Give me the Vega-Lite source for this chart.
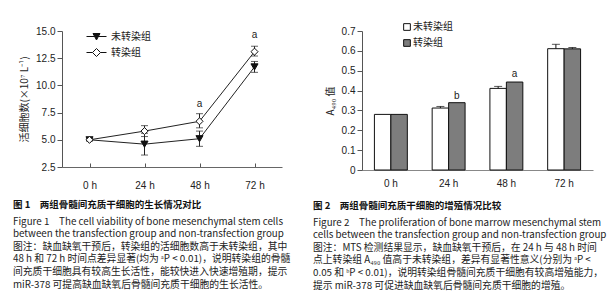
{
  "$schema": "https://vega.github.io/schema/vega-lite/v6.json",
  "autosize": {"type": "pad"},
  "padding": {"left": 13, "top": 22, "right": 0, "bottom": 0},
  "background": "white",
  "bounds": "flush",
  "spacing": 80,
  "resolve": {"scale": {"fill": "independent", "shape": "independent"}, "legend": {"fill": "independent", "shape": "independent"}},
  "config": {
    "view": {"stroke": null},
    "font": "Noto Sans CJK SC",
    "axis": {"labelFont": "Liberation Sans", "labelFontSize": 10, "labelColor": "#222", "domainColor": "#555", "tickColor": "#555", "grid": false, "titleFont": "Noto Sans CJK SC", "titleFontWeight": "normal", "titleFontSize": 10, "titleColor": "#222"},
    "legend": {"labelFont": "Noto Sans CJK SC", "labelFontSize": 10, "labelColor": "#222"},
    "title": {"color": "#111", "subtitleColor": "#222"}
  },
  "datasets": {
    "growth": [
      {"time": "0 h", "group": "未转染组", "value": 5.0, "lo": 4.9, "hi": 5.1},
      {"time": "24 h", "group": "未转染组", "value": 4.6, "lo": 3.6, "hi": 5.6},
      {"time": "48 h", "group": "未转染组", "value": 5.1, "lo": 4.4, "hi": 5.8},
      {"time": "72 h", "group": "未转染组", "value": 11.7, "lo": 11.2, "hi": 12.2},
      {"time": "0 h", "group": "转染组", "value": 5.0, "lo": 4.9, "hi": 5.1},
      {"time": "24 h", "group": "转染组", "value": 5.8, "lo": 5.3, "hi": 6.3},
      {"time": "48 h", "group": "转染组", "value": 6.7, "lo": 6.1, "hi": 7.4},
      {"time": "72 h", "group": "转染组", "value": 13.1, "lo": 12.7, "hi": 13.6}
    ],
    "growthMarks": [
      {"time": "48 h", "label": "a", "y": 8.3},
      {"time": "72 h", "label": "a", "y": 14.6}
    ],
    "prolif": [
      {"time": "0 h", "series": "未转染组", "value": 0.28, "hi": 0.28},
      {"time": "24 h", "series": "未转染组", "value": 0.312, "hi": 0.32},
      {"time": "48 h", "series": "未转染组", "value": 0.411, "hi": 0.421},
      {"time": "72 h", "series": "未转染组", "value": 0.611, "hi": 0.633},
      {"time": "0 h", "series": "转染组", "value": 0.28, "hi": 0.28},
      {"time": "24 h", "series": "转染组", "value": 0.339, "hi": 0.339},
      {"time": "48 h", "series": "转染组", "value": 0.443, "hi": 0.443},
      {"time": "72 h", "series": "转染组", "value": 0.61, "hi": 0.617}
    ],
    "prolifMarks": [
      {"time": "24 h", "series": "转染组", "label": "b", "y": 0.374},
      {"time": "48 h", "series": "转染组", "label": "a", "y": 0.483}
    ]
  },
  "hconcat": [
    {
      "width": 220,
      "height": 136,
      "title": {
        "text": "图 1　两组骨髓间充质干细胞的生长情况对比",
        "subtitle": [
          "Figure 1　The cell viability of bone mesenchymal stem cells",
          "between the transfection group and non-transfection group",
          "图注：缺血缺氧干预后，转染组的活细胞数高于未转染组，其中",
          "48 h 和 72 h 时间点差异显著(均为 ᵃP < 0.01)，说明转染组的骨髓",
          "间充质干细胞具有较高生长活性，能较快进入快速增殖期，提示",
          "miR-378 可提高缺血缺氧后骨髓间充质干细胞的生长活性。"
        ],
        "orient": "bottom",
        "anchor": "start",
        "frame": "group",
        "dx": -49,
        "offset": 10,
        "font": "Noto Sans CJK SC",
        "fontSize": 9.5,
        "fontWeight": "bold",
        "subtitleFont": "Noto Sans CJK SC",
        "subtitleFontSize": 9.8,
        "subtitlePadding": 7,
        "subtitleLineHeight": 12.6
      },
      "encoding": {
        "x": {
          "field": "time", "type": "ordinal", "sort": ["0 h", "24 h", "48 h", "72 h"],
          "scale": {"type": "point", "padding": 0.5},
          "axis": {"title": null, "labelAngle": 0, "tickSize": -4, "labelPadding": 17, "domainColor": "#666"}
        }
      },
      "resolve": {"scale": {"shape": "independent"}},
      "layer": [
        {
          "data": {"name": "growth"},
          "mark": {"type": "line", "color": "#222", "strokeWidth": 1},
          "encoding": {
            "y": {"field": "value", "type": "quantitative", "scale": {"domain": [2.5, 15], "nice": false, "zero": false},
              "axis": {
                "title": "活细胞数(×10⁷ L⁻¹)", "tickCount": 25, "labelOverlap": false,
                "labelExpr": "datum.value % 2.5 === 0 ? format(datum.value, '.1f') : ''",
                "tickOpacity": {"condition": {"test": "datum.value % 2.5 === 0", "value": 1}, "value": 0},
                "tickSize": 5, "titlePadding": 6
              }},
            "detail": {"field": "group"}
          }
        },
        {
          "data": {"name": "growth"},
          "mark": {"type": "rule", "color": "#222", "strokeWidth": 1},
          "encoding": {
            "y": {"field": "lo", "type": "quantitative"},
            "y2": {"field": "hi"}
          }
        },
        {
          "data": {"name": "growth"},
          "mark": {"type": "tick", "color": "#222", "size": 7, "thickness": 1, "orient": "horizontal"},
          "encoding": {"y": {"field": "lo", "type": "quantitative"}}
        },
        {
          "data": {"name": "growth"},
          "mark": {"type": "tick", "color": "#222", "size": 7, "thickness": 1, "orient": "horizontal"},
          "encoding": {"y": {"field": "hi", "type": "quantitative"}}
        },
        {
          "data": {"name": "growth"},
          "mark": {"type": "point", "filled": true, "size": 50, "stroke": "#111", "strokeWidth": 1, "opacity": 1},
          "encoding": {
            "y": {"field": "value", "type": "quantitative"},
            "shape": {
              "field": "group", "type": "nominal",
              "scale": {"domain": ["未转染组", "转染组"], "range": ["triangle-down", "diamond"]},
              "legend": null
            },
            "fill": {
              "field": "group", "type": "nominal",
              "scale": {"domain": ["未转染组", "转染组"], "range": ["#111", "white"]},
              "legend": null
            }
          }
        },
        {
          "data": {"name": "growth"},
          "transform": [{"filter": "datum.value > 100"}],
          "mark": {"type": "point", "filled": false, "color": "#111", "strokeWidth": 1, "opacity": 1},
          "encoding": {
            "y": {"field": "value", "type": "quantitative"},
            "shape": {
              "field": "group", "type": "nominal",
              "scale": {"domain": ["未转染组", "转染组"], "range": ["M-1,0L1,0M-0.35,-0.3L0.35,-0.3L0,0.35ZM-0.3,-0.2L0.3,-0.2M-0.24,-0.1L0.24,-0.1M-0.19,0L0.19,0M-0.13,0.1L0.13,0.1M-0.08,0.2L0.08,0.2", "M-1,0L-0.4,0M0.4,0L1,0M0,-0.4L0.4,0L0,0.4L-0.4,0Z"]},
              "legend": {
                "orient": "none", "legendX": 24, "legendY": -5, "title": null,
                "symbolSize": 400, "rowPadding": -3, "labelOffset": 4,
                "symbolStrokeColor": "#111", "symbolStrokeWidth": 1, "symbolOpacity": 1
              }
            }
          }
        },
        {
          "data": {"name": "growthMarks"},
          "mark": {"type": "text", "font": "Liberation Sans", "fontSize": 10, "color": "#222"},
          "encoding": {
            "y": {"field": "y", "type": "quantitative"},
            "text": {"field": "label"}
          }
        }
      ]
    },
    {
      "width": 231,
      "height": 139,
      "title": {
        "text": "图 2　两组骨髓间充质干细胞的增殖情况比较",
        "subtitle": [
          "Figure 2　The proliferation of bone marrow mesenchymal stem",
          "cells between the transfection group and non-transfection group",
          "图注：MTS 检测结果显示，缺血缺氧干预后，在 24 h 与 48 h 时间",
          "点上转染组 A₄₉₀ 值高于未转染组，差异有显著性意义(分别为 ᵃP <",
          "0.05 和 ᵇP < 0.01)，说明转染组骨髓间充质干细胞有较高增殖能力，",
          "提示 miR-378 可促进缺血缺氧后骨髓间充质干细胞的增殖。"
        ],
        "orient": "bottom",
        "anchor": "start",
        "frame": "group",
        "dx": -49,
        "offset": 13,
        "font": "Noto Sans CJK SC",
        "fontSize": 9.5,
        "fontWeight": "bold",
        "subtitleFont": "Noto Sans CJK SC",
        "subtitleFontSize": 9.8,
        "subtitlePadding": 7,
        "subtitleLineHeight": 12.6
      },
      "encoding": {
        "x": {
          "field": "time", "type": "ordinal", "sort": ["0 h", "24 h", "48 h", "72 h"],
          "scale": {"type": "band", "paddingInner": 0.43, "paddingOuter": 0.215},
          "axis": {"title": null, "labelAngle": 0, "ticks": false, "labelPadding": 8, "domainColor": "#888"}
        },
        "xOffset": {"field": "series", "type": "nominal", "sort": ["未转染组", "转染组"], "scale": {"paddingInner": 0, "paddingOuter": 0}}
      },
      "layer": [
        {
          "data": {"name": "prolif"},
          "mark": {"type": "bar", "stroke": "#111", "strokeWidth": 1},
          "encoding": {
            "y": {"field": "value", "type": "quantitative", "scale": {"domain": [0, 0.7], "nice": false},
              "axis": {"title": "A₄₉₀ 值", "tickCount": 7, "format": ".1~f", "tickSize": 5, "titlePadding": 6}},
            "fill": {
              "field": "series", "type": "nominal",
              "scale": {"domain": ["未转染组", "转染组"], "range": ["#ffffff", "#7d7d7d"]},
              "legend": {
                "orient": "none", "legendX": 40, "legendY": -9, "title": null,
                "symbolType": "square", "symbolSize": 45, "symbolStrokeColor": "#111", "symbolStrokeWidth": 1,
                "rowPadding": 4, "labelOffset": 1
              }
            }
          }
        },
        {
          "data": {"name": "prolif"},
          "transform": [{"filter": "datum.hi > datum.value"}],
          "mark": {"type": "rule", "color": "#111", "strokeWidth": 1},
          "encoding": {
            "y": {"field": "value", "type": "quantitative"},
            "y2": {"field": "hi"}
          }
        },
        {
          "data": {"name": "prolif"},
          "transform": [{"filter": "datum.hi > datum.value"}],
          "mark": {"type": "tick", "color": "#111", "size": 8, "thickness": 1, "orient": "horizontal"},
          "encoding": {"y": {"field": "hi", "type": "quantitative"}}
        },
        {
          "data": {"name": "prolifMarks"},
          "mark": {"type": "text", "font": "Liberation Sans", "fontSize": 10, "color": "#222"},
          "encoding": {
            "y": {"field": "y", "type": "quantitative"},
            "text": {"field": "label"}
          }
        }
      ]
    }
  ]
}
